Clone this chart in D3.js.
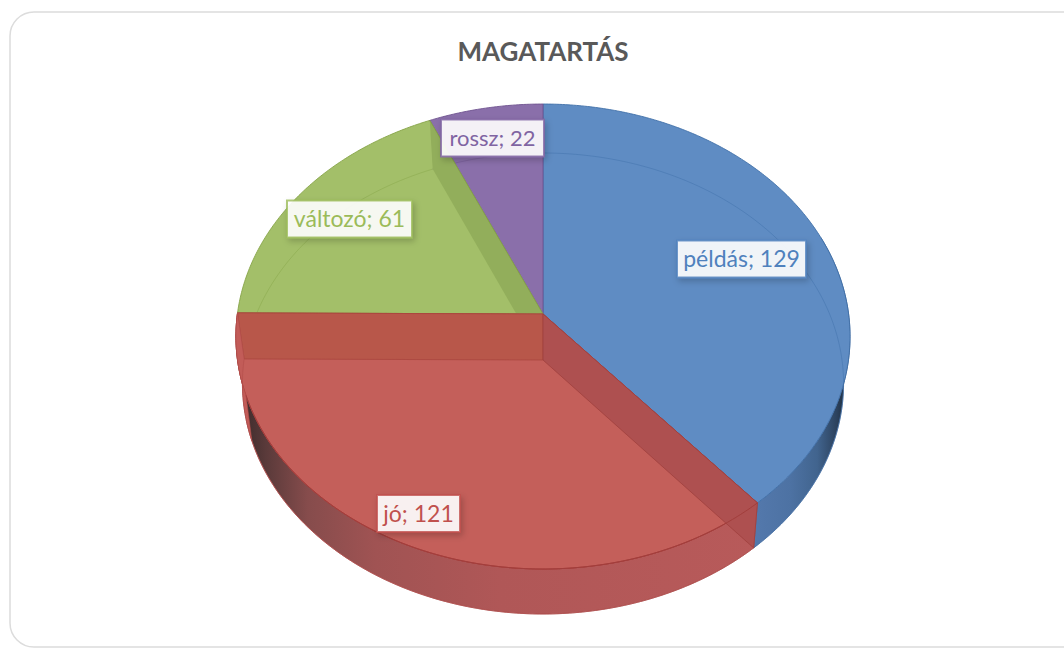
<!DOCTYPE html>
<html><head><meta charset="utf-8">
<script src="https://cdnjs.cloudflare.com/ajax/libs/d3/7.8.5/d3.min.js"></script>
<style>html,body{margin:0;padding:0;background:#fff;overflow:hidden}svg{display:block}</style>
</head><body><svg id="c" width="1064" height="648"></svg>
<script>
const title = "MAGATARTÁS";
const categories = ["példás", "jó", "változó", "rossz"];
const values = [129, 121, 61, 22];
const faceColors = ["#5F8CC3", "#C45F5A", "#A3BF69", "#8A6FAA"];
const edgeColors = ["#3F6FA8", "#A9403C", "#86A447", "#6F5490"];
const textColors = ["#4F81BD", "#C0504D", "#9BBB59", "#8064A2"];
const labelCenters = [[741.5, 259], [418.5, 513.5], [349.5, 219], [492.5, 138]];

const W = 1064, H = 648;
const svg = d3.select("#c");
const defs = svg.append("defs");

// perspective-projected disc: the true centre is off the ellipse centre
const topFace = {cx: 543, cy: 314, a: 305.6, b: 230.3, k: 0.0968};
const botFace = {cx: 543, cy: 360, a: 299, b: 228.1, k: 0.1019};
const P = (f, ang, r = 1) => {
  const u = r * Math.sin(ang), v = -r * Math.cos(ang), d = 1 - f.k * v;
  return [f.cx + f.a * u / d, f.cy + f.b * v / d];
};
const arcPts = (f, a0, a1) => {
  const n = Math.max(2, Math.ceil(Math.abs(a1 - a0) / 0.01));
  return d3.range(n + 1).map(i => P(f, a0 + (a1 - a0) * i / n));
};
const line = d3.line();
const closed = pts => line(pts) + "Z";

const arcs = d3.pie().sort(null).value(d => d)(values);
const rad = d => d * Math.PI / 180;

// gradients for the outer wall
function grad(id, stops, x1, x2) {
  const g = defs.append("linearGradient").attr("id", id).attr("gradientUnits", "userSpaceOnUse")
    .attr("x1", x1).attr("x2", x2).attr("y1", 0).attr("y2", 0);
  stops.forEach(s => g.append("stop").attr("offset", s[0]).attr("stop-color", s[1]));
}
grad("wallBlue", [[0, "#5479AD"], [0.4, "#4D72A3"], [0.68, "#41648E"], [0.88, "#2C425E"], [1, "#1B2836"]], 752, 848);
grad("wallRed", [[0, "#3A2A2A"], [0.05, "#5A3A3A"], [0.13, "#864C4C"], [0.26, "#A05353"], [0.5, "#B05757"], [1, "#B85A5A"]], 240, 760);
const f = defs.append("filter").attr("id", "sh").attr("x", "-20%").attr("y", "-30%").attr("width", "140%").attr("height", "170%");
f.append("feDropShadow").attr("dx", 2).attr("dy", 3).attr("stdDeviation", 3).attr("flood-color", "#000").attr("flood-opacity", 0.22);

// chart frame
svg.append("rect").attr("x", 10).attr("y", 12).attr("width", 1080).attr("height", 635).attr("rx", 24)
  .attr("fill", "#fff").attr("stroke", "#DCDCDC").attr("stroke-width", 1.5);

svg.append("text").attr("x", 543).attr("y", 61).attr("text-anchor", "middle")
  .attr("font-family", "Lato").attr("font-weight", 700).attr("font-size", 26).attr("fill", "#595959").text(title);

const [blue, red, green, purple] = arcs;

// outer walls (only the near part shows below the top face)
const wall = (a0, a1, fill, stroke) => svg.append("path")
  .attr("d", closed([...arcPts(topFace, a0, a1), ...arcPts(botFace, a1, a0)]))
  .attr("fill", fill).attr("stroke", stroke).attr("stroke-width", 0.8);
wall(rad(70), blue.endAngle, "url(#wallBlue)", "#4A6F9F");
wall(red.startAngle, red.endAngle, "url(#wallRed)", "#A84A48");

// top faces
arcs.forEach((d, i) => {
  svg.append("path")
    .attr("d", closed([P(topFace, 0, 0), ...arcPts(topFace, d.startAngle, d.endAngle)]))
    .attr("fill", faceColors[i]).attr("stroke", edgeColors[i]).attr("stroke-width", 0.9).attr("stroke-linejoin", "round");
});

// far rim of the base seen through the glass-like faces
[blue, green, purple].forEach(d => {
  const i = d.index;
  svg.append("path").attr("d", line(arcPts(botFace, d.startAngle, d.endAngle)))
    .attr("fill", "none").attr("stroke", edgeColors[i]).attr("stroke-width", 1).attr("opacity", 0.45);
});

// inner wall green / purple
const wallPoly = ang => [P(topFace, ang, 0), P(topFace, ang), P(botFace, ang), P(botFace, ang, 0)];
svg.append("path").attr("d", closed(wallPoly(purple.startAngle)))
  .attr("fill", "#92AE5B").attr("stroke", "none");
svg.append("path").attr("d", line([P(topFace, purple.startAngle, 0), P(topFace, purple.startAngle)]))
  .attr("stroke", edgeColors[2]).attr("stroke-width", 1).attr("fill", "none");

// repaint red face below the green/red edge so the wall ends there
svg.append("path")
  .attr("d", closed([P(topFace, 0, 0), ...arcPts(topFace, red.startAngle, red.endAngle)]))
  .attr("fill", faceColors[1]).attr("stroke", edgeColors[1]).attr("stroke-width", 0.9).attr("stroke-linejoin", "round");

// inner wall red / green
svg.append("path").attr("d", closed(wallPoly(red.endAngle)))
  .attr("fill", "#B8574A").attr("stroke", "#A9463F").attr("stroke-width", 0.8);
// left sliver of the red face around the rim
svg.append("path")
  .attr("d", closed([P(topFace, red.endAngle), ...arcPts(topFace, red.endAngle, rad(250)), P(botFace, rad(250)), ...arcPts(botFace, rad(250), red.endAngle)]))
  .attr("fill", "#C25C58").attr("stroke", "#B24E4A").attr("stroke-width", 0.6);
// inner wall red / blue
svg.append("path").attr("d", closed(wallPoly(red.startAngle)))
  .attr("fill", "#AE5050").attr("stroke", "#A0403E").attr("stroke-width", 0.8);
// near rim of the top face, over the walls
svg.append("path").attr("d", line(arcPts(topFace, red.startAngle, rad(250))))
  .attr("fill", "none").attr("stroke", "#A23E3C").attr("stroke-width", 1);
svg.append("path").attr("d", line(arcPts(botFace, blue.endAngle, rad(255))))
  .attr("fill", "none").attr("stroke", "#B25050").attr("stroke-width", 0.6);

// data labels
const boxWidths = [129, 83, 125, 103];
categories.forEach((name, i) => {
  const g = svg.append("g").attr("transform", `translate(${labelCenters[i]})`);
  g.append("rect").attr("fill", "#fff").attr("fill-opacity", 0.9)
    .attr("stroke", textColors[i]).attr("stroke-opacity", 0.8).attr("stroke-width", 2).attr("filter", "url(#sh)")
    .attr("x", -boxWidths[i] / 2).attr("width", boxWidths[i]).attr("y", -18.5).attr("height", 37);
  g.append("text").attr("text-anchor", "middle").attr("dy", "0.35em")
    .attr("font-family", "Lato").attr("font-size", i === 3 ? 22 : 23).attr("fill", textColors[i])
    .text(`${name}; ${values[i]}`);
});
</script></body></html>
